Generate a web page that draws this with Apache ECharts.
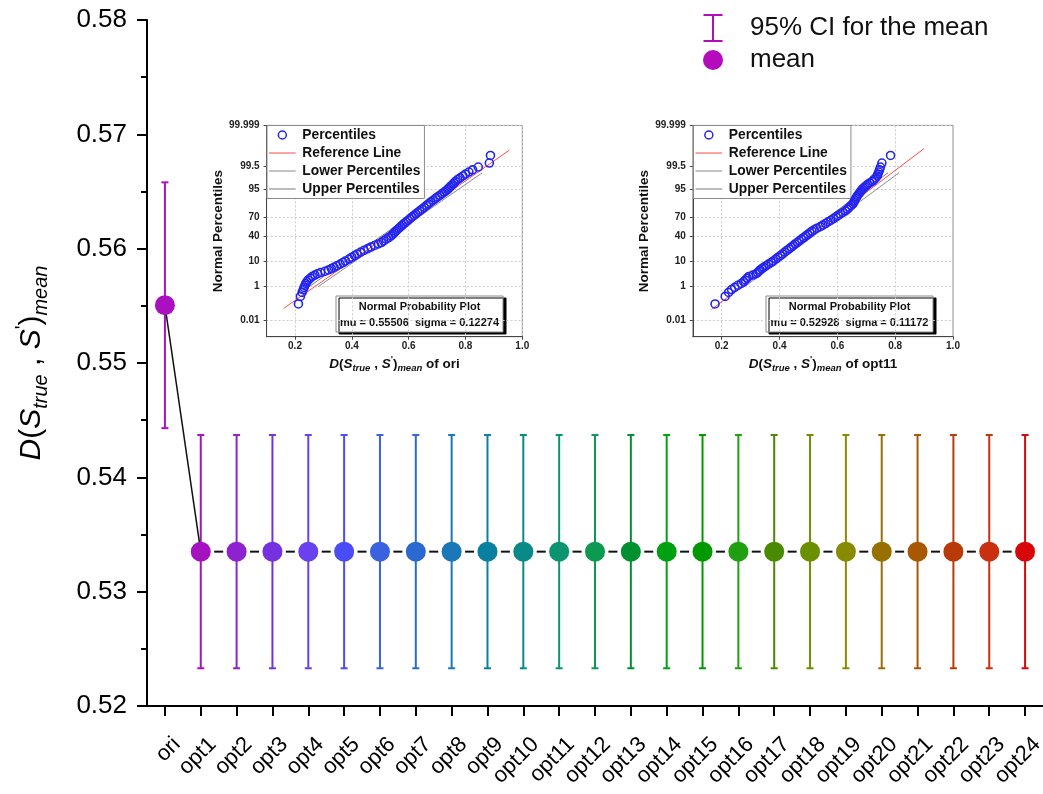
<!DOCTYPE html>
<html>
<head>
<meta charset="utf-8">
<script src="https://cdn.jsdelivr.net/npm/echarts@6/dist/echarts.min.js"></script>
<style>
  html, body { margin: 0; padding: 0; background: #ffffff; }
  #chart { width: 1043px; height: 794px; }
</style>
</head>
<body>
<div id="chart"></div>
<script>
// ---------- main chart data ----------
const categories = ['ori', 'opt1', 'opt2', 'opt3', 'opt4', 'opt5', 'opt6', 'opt7', 'opt8', 'opt9', 'opt10',
  'opt11', 'opt12', 'opt13', 'opt14', 'opt15', 'opt16', 'opt17', 'opt18', 'opt19', 'opt20',
  'opt21', 'opt22', 'opt23', 'opt24'];
const meanValues = [0.55506, 0.5335, 0.5335, 0.5335, 0.5335, 0.5335, 0.5335, 0.5335, 0.5335, 0.5335, 0.5335,
  0.5335, 0.5335, 0.5335, 0.5335, 0.5335, 0.5335, 0.5335, 0.5335, 0.5335, 0.5335,
  0.5335, 0.5335, 0.5335, 0.5335];
const ciLower = [0.5443, 0.5233, 0.5233, 0.5233, 0.5233, 0.5233, 0.5233, 0.5233, 0.5233, 0.5233, 0.5233,
  0.5233, 0.5233, 0.5233, 0.5233, 0.5233, 0.5233, 0.5233, 0.5233, 0.5233, 0.5233,
  0.5233, 0.5233, 0.5233, 0.5233];
const ciUpper = [0.5658, 0.5437, 0.5437, 0.5437, 0.5437, 0.5437, 0.5437, 0.5437, 0.5437, 0.5437, 0.5437,
  0.5437, 0.5437, 0.5437, 0.5437, 0.5437, 0.5437, 0.5437, 0.5437, 0.5437, 0.5437,
  0.5437, 0.5437, 0.5437, 0.5437];
const markColors = ['#aa10c0', '#a513c0', '#8e22d0', '#7530e0', '#6a40f0', '#4a4cf8', '#3a62e0', '#2a6ad0',
  '#1a78b8', '#0a80a0', '#088a88', '#0a9470', '#0c9a50', '#009030', '#00a010', '#009a00', '#20a010',
  '#4a8a00', '#6a9000', '#888a00', '#987000', '#a85800', '#b83a08', '#c83010', '#d80808'];
const legendColor = '#b40cbc';

// ---------- normal probability insets ----------
const probTickLabels = ['0.01', '1', '10', '40', '70', '95', '99.5', '99.999'];
const probXTicks = [0.2, 0.4, 0.6, 0.8, 1.0];
// plotting positions (%) of the plotted order statistics
const plotPercentiles = [0.12, 0.32, 0.52, 0.72, 0.92, 1.15, 1.4, 1.7, 2.0, 2.4, 2.8, 3.2, 3.6, 4.0, 4.5,
  5.0, 5.6, 6.2, 7.0, 8.0, 9.0, 10, 11.5, 13, 14.5, 16, 18, 20, 22, 24, 26, 28, 30, 32.5, 35, 37.5, 40,
  42.5, 45, 47.5, 50, 52.5, 55, 57.5, 60, 62.5, 65, 67.5, 70, 72, 74, 76, 78, 80, 82, 84, 85.5, 87, 88.5,
  90, 91, 92, 93, 93.8, 94.4, 95, 95.5, 96, 96.4, 96.8, 97.2, 97.6, 98, 98.3, 98.6, 98.85, 99.08, 99.28,
  99.48, 99.68, 99.88];
const oriSampleX = [0.212, 0.219, 0.225, 0.229, 0.232, 0.235, 0.238, 0.242, 0.247, 0.254, 0.261, 0.270,
  0.279, 0.290, 0.306, 0.318, 0.328, 0.337, 0.347, 0.359, 0.369, 0.377, 0.390, 0.400, 0.410, 0.419, 0.431,
  0.443, 0.456, 0.467, 0.480, 0.493, 0.504, 0.512, 0.521, 0.530, 0.538, 0.544, 0.549, 0.554, 0.560,
  0.566, 0.572, 0.578, 0.584, 0.591, 0.598, 0.605, 0.612, 0.619, 0.625, 0.632, 0.639, 0.647, 0.655, 0.663,
  0.670, 0.677, 0.686, 0.695, 0.702, 0.710, 0.718, 0.725, 0.731, 0.737, 0.741, 0.746, 0.750, 0.755, 0.760,
  0.765, 0.773, 0.781, 0.791, 0.800, 0.812, 0.825, 0.845, 0.884, 0.888];
const opt11SampleX = [0.177, 0.212, 0.224, 0.234, 0.245, 0.256, 0.268, 0.276, 0.282, 0.288, 0.294, 0.308,
  0.319, 0.324, 0.329, 0.333, 0.339, 0.345, 0.353, 0.362, 0.371, 0.378, 0.387, 0.395, 0.403, 0.410, 0.418,
  0.426, 0.434, 0.441, 0.448, 0.454, 0.461, 0.468, 0.476, 0.484, 0.491, 0.498, 0.505, 0.512, 0.520,
  0.529, 0.541, 0.550, 0.559, 0.568, 0.577, 0.587, 0.596, 0.603, 0.611, 0.619, 0.628, 0.635, 0.641, 0.648,
  0.654, 0.657, 0.660, 0.664, 0.667, 0.670, 0.675, 0.679, 0.682, 0.686, 0.690, 0.695, 0.700, 0.705, 0.712,
  0.721, 0.727, 0.733, 0.738, 0.740, 0.743, 0.746, 0.749, 0.754, 0.784];
const oriFit = [0.55506, 0.12274];     // mu, sigma
const opt11Fit = [0.52928, 0.11172];
const oriRefRange = [0.16, 0.955];     // x extent of the reference line
const opt11RefRange = [0.165, 0.90];
const oriLowerBand = [[0.282, 1], [0.859, 99]];
const oriUpperBand = [[0.25, 1], [0.822, 99]];
const opt11LowerBand = [[0.28, 1], [0.813, 99]];
const opt11UpperBand = [[0.245, 1], [0.775, 99]];

const FONT = 'Arial, "Liberation Sans", Helvetica, sans-serif';
const REF_COLOR = '#ff4a4a';
const LOWER_COLOR = '#8c8c8c';
const UPPER_COLOR = '#7a7a7a';
const PCT_COLOR = '#2424f2';
// thin horizontal stroke used as the legend glyph of the line series
const LINE_ICON = 'path://M0,0L0.01,0M0,3.9H30V5.1H0ZM0,9L0.01,9';

// inverse standard normal CDF (Acklam) -> probability-scale coordinate
function probit(p) {
  const a = [-3.969683028665376e+01, 2.209460984245205e+02, -2.759285104469687e+02, 1.383577518672690e+02, -3.066479806614716e+01, 2.506628277459239e+00];
  const b = [-5.447609879822406e+01, 1.615858368580409e+02, -1.556989798598866e+02, 6.680131188771972e+01, -1.328068155288572e+01];
  const c = [-7.784894002430293e-03, -3.223964580411365e-01, -2.400758277161838e+00, -2.549732539343734e+00, 4.374664141464968e+00, 2.938163982698783e+00];
  const d = [7.784695709041462e-03, 3.224671290700398e-01, 2.445134137142996e+00, 3.754408661907416e+00];
  const pl = 0.02425, ph = 1 - pl;
  let q, r;
  if (p < pl) {
    q = Math.sqrt(-2 * Math.log(p));
    return (((((c[0] * q + c[1]) * q + c[2]) * q + c[3]) * q + c[4]) * q + c[5]) / ((((d[0] * q + d[1]) * q + d[2]) * q + d[3]) * q + 1);
  }
  if (p <= ph) {
    q = p - 0.5; r = q * q;
    return (((((a[0] * r + a[1]) * r + a[2]) * r + a[3]) * r + a[4]) * r + a[5]) * q / (((((b[0] * r + b[1]) * r + b[2]) * r + b[3]) * r + b[4]) * r + 1);
  }
  q = Math.sqrt(-2 * Math.log(1 - p));
  return -(((((c[0] * q + c[1]) * q + c[2]) * q + c[3]) * q + c[4]) * q + c[5]) / ((((d[0] * q + d[1]) * q + d[2]) * q + d[3]) * q + 1);
}
const pz = pct => probit(pct / 100);
const probTickZ = probTickLabels.map(s => pz(parseFloat(s)));
const probTop = pz(99.999);
const probBottom = -4.374;

function probLabel(v) {
  for (let i = 0; i < probTickZ.length; i++) {
    if (Math.abs(probTickZ[i] - v) < 1e-6) return probTickLabels[i];
  }
  return '';
}

const insetRich = {
  i: { fontSize: 13.5, fontWeight: 'bold', fontStyle: 'italic', fontFamily: FONT, color: '#111', lineHeight: 19 },
  n: { fontSize: 13.5, fontWeight: 'bold', fontFamily: FONT, color: '#111', lineHeight: 19 },
  s: { fontSize: 9.5, fontWeight: 'bold', fontStyle: 'italic', fontFamily: FONT, color: '#111', lineHeight: 9, verticalAlign: 'bottom' },
  p: { fontSize: 9.5, fontWeight: 'bold', fontFamily: FONT, color: '#111', lineHeight: 9, verticalAlign: 'top' }
};

function insetXAxis(gi, sampleName) {
  return {
    type: 'value', gridIndex: gi, min: 0.1, max: 1.0,
    axisLine: { show: true, onZero: false, lineStyle: { color: '#444', width: 1 } },
    axisTick: { show: true, customValues: probXTicks, length: 3, lineStyle: { color: '#444' } },
    axisLabel: { customValues: probXTicks, formatter: v => v.toFixed(1), fontSize: 10, fontWeight: 'bold',
      color: '#222', margin: 5, fontFamily: FONT },
    splitLine: { show: true, lineStyle: { color: '#cccccc', type: [2, 2], width: 1 } },
    name: '{i|D}{n|(}{i|S}{s|true}{n| , }{i|S}{p|\'}{n|)}{s|mean}{n| of ' + sampleName + '}',
    nameLocation: 'middle', nameGap: 18,
    nameTextStyle: { rich: insetRich }
  };
}
function insetYAxis(gi) {
  return {
    type: 'value', gridIndex: gi, min: probBottom, max: probTop,
    axisLine: { show: true, onZero: false, lineStyle: { color: '#444', width: 1 } },
    axisTick: { show: true, customValues: probTickZ, length: 3, lineStyle: { color: '#444' } },
    axisLabel: { customValues: probTickZ, formatter: probLabel, fontSize: 10, fontWeight: 'bold',
      color: '#222', margin: 7, fontFamily: FONT },
    splitLine: { show: true, lineStyle: { color: '#cccccc', type: [2, 2], width: 1 } },
    name: 'Normal Percentiles', nameLocation: 'middle', nameGap: 38,
    nameTextStyle: { fontSize: 13.5, fontWeight: 'bold', color: '#111', fontFamily: FONT }
  };
}
function insetSeries(gi, sampleX, fit, refRange, lowerBand, upperBand) {
  const [mu, sigma] = fit;
  const common = { xAxisIndex: gi, yAxisIndex: gi, silent: true };
  return [
    Object.assign({
      name: 'Lower Percentiles', type: 'line', symbol: 'none', z: 3,
      itemStyle: { color: LOWER_COLOR },
      lineStyle: { color: LOWER_COLOR, width: 1 },
      data: lowerBand.map(d => [d[0], pz(d[1])])
    }, common),
    Object.assign({
      name: 'Upper Percentiles', type: 'line', symbol: 'none', z: 3,
      itemStyle: { color: UPPER_COLOR },
      lineStyle: { color: UPPER_COLOR, width: 1 },
      data: upperBand.map(d => [d[0], pz(d[1])])
    }, common),
    Object.assign({
      name: 'Reference Line', type: 'line', symbol: 'none', z: 4,
      itemStyle: { color: REF_COLOR },
      lineStyle: { color: REF_COLOR, width: 1 },
      data: refRange.map(x => [x, (x - mu) / sigma])
    }, common),
    Object.assign({
      name: 'Percentiles', type: 'scatter', symbol: 'circle', symbolSize: 8, z: 5,
      itemStyle: { color: 'rgba(0,0,0,0)', borderColor: PCT_COLOR, borderWidth: 1.6, opacity: 1 },
      data: sampleX.map((x, i) => [x, pz(plotPercentiles[i])])
    }, common)
  ];
}
function insetLegend(left) {
  return {
    orient: 'vertical', left: left, top: 125.5,
    data: [
      { name: 'Percentiles', icon: 'circle', itemStyle: { color: 'rgba(0,0,0,0)', borderColor: PCT_COLOR, borderWidth: 1.5 } },
      { name: 'Reference Line', icon: LINE_ICON, itemStyle: { color: REF_COLOR } },
      { name: 'Lower Percentiles', icon: LINE_ICON, itemStyle: { color: LOWER_COLOR } },
      { name: 'Upper Percentiles', icon: LINE_ICON, itemStyle: { color: UPPER_COLOR } }
    ],
    itemWidth: 30, itemHeight: 8, itemGap: 3,
    padding: [2, 4, 2, 2],
    backgroundColor: '#ffffff', borderColor: '#8a8a8a', borderWidth: 1, borderRadius: 0,
    textStyle: { fontSize: 13.8, fontWeight: 'bold', color: '#111', fontFamily: FONT, lineHeight: 15 },
    selectedMode: false
  };
}
function statBox(x, y, fit) {
  const w = 167, h = 36;
  return {
    type: 'group', x: x, y: y, z: 60,
    children: [
      { type: 'rect', shape: { x: 0, y: 0, width: w, height: h },
        style: { fill: '#ffffff', stroke: '#8a8a8a', lineWidth: 1, shadowColor: '#000000',
          shadowOffsetX: 3, shadowOffsetY: 2, shadowBlur: 0 } },
      { type: 'text', x: w / 2, y: 11,
        style: { text: 'Normal Probability Plot', font: 'bold 11px ' + FONT, fill: '#111',
          align: 'center', verticalAlign: 'middle', textAlign: 'center', textVerticalAlign: 'middle' } },
      { type: 'text', x: w / 2, y: 27,
        style: { text: 'mu = ' + fit[0].toFixed(5) + '  sigma = ' + fit[1].toFixed(5), font: 'bold 11px ' + FONT,
          fill: '#111', align: 'center', verticalAlign: 'middle', textAlign: 'center', textVerticalAlign: 'middle' } }
    ]
  };
}

const mainRich = {
  i: { fontSize: 30, fontStyle: 'italic', fontFamily: FONT, color: '#000', lineHeight: 38 },
  n: { fontSize: 30, fontFamily: FONT, color: '#000', lineHeight: 38 },
  s: { fontSize: 20, fontStyle: 'italic', fontFamily: FONT, color: '#000', lineHeight: 19, verticalAlign: 'bottom' },
  p: { fontSize: 20, fontFamily: FONT, color: '#000', lineHeight: 19, verticalAlign: 'top' }
};

const chart = echarts.init(document.getElementById('chart'), null, { renderer: 'canvas' });

const option = {
  animation: false,
  backgroundColor: '#ffffff',
  textStyle: { fontFamily: FONT },
  grid: [
    { left: 147, right: 0, top: 20, bottom: 88, outerBoundsMode: 'none' },
    { left: 266.6, top: 125.4, width: 255.7, height: 211.3, show: true, borderColor: '#8a8a8a', borderWidth: 1,
      backgroundColor: 'rgba(0,0,0,0)', outerBoundsMode: 'none' },
    { left: 692.8, top: 125.4, width: 260.2, height: 211.3, show: true, borderColor: '#8a8a8a', borderWidth: 1,
      backgroundColor: 'rgba(0,0,0,0)', outerBoundsMode: 'none' }
  ],
  xAxis: [
    {
      type: 'category', gridIndex: 0, data: categories, boundaryGap: true,
      axisLine: { show: true, lineStyle: { color: '#000', width: 2 } },
      axisTick: { show: true, alignWithLabel: true, length: 10, lineStyle: { color: '#000', width: 2 } },
      axisLabel: { rotate: 45, fontSize: 22, color: '#000', margin: 23, verticalAlign: 'top',
        padding: [6, 0, 0, 0], fontFamily: FONT, interval: 0 },
      splitLine: { show: false }
    },
    insetXAxis(1, 'ori'),
    insetXAxis(2, 'opt11')
  ],
  yAxis: [
    {
      type: 'value', gridIndex: 0, min: 0.52, max: 0.58, interval: 0.01,
      axisLine: { show: true, lineStyle: { color: '#000', width: 2 } },
      axisTick: { show: true, length: 10, lineStyle: { color: '#000', width: 2 } },
      minorTick: { show: true, splitNumber: 2, length: 6, lineStyle: { color: '#000', width: 2 } },
      axisLabel: { formatter: v => v.toFixed(2), fontSize: 26, color: '#000', margin: 20, fontFamily: FONT },
      splitLine: { show: false },
      name: '{i|D}{n|(}{i|S}{s|true}{n| , }{i|S}{p|\'}{n|)}{s|mean}',
      nameLocation: 'middle', nameRotate: 90, nameGap: 96,
      nameTextStyle: { rich: mainRich }
    },
    insetYAxis(1),
    insetYAxis(2)
  ],
  legend: [
    {
      orient: 'vertical', left: 703, top: 14, padding: 0,
      data: [
        { name: '95% CI for the mean', icon: 'path://M0,0H19V2H10.5V26H19V28H0V26H8.5V2H0Z', itemStyle: { color: legendColor } },
        { name: 'mean', icon: 'circle', itemStyle: { color: legendColor, opacity: 1 } }
      ],
      itemWidth: 20, itemHeight: 28, itemGap: 4,
      formatter: name => '{g|}' + name,
      textStyle: { fontSize: 26, lineHeight: 28, color: '#111', fontFamily: FONT, rich: { g: { width: 22 } } },
      selectedMode: false
    },
    insetLegend(267),
    insetLegend(693.5)
  ],
  graphic: [
    statBox(336, 296, oriFit),
    statBox(766, 296, opt11Fit)
  ],
  series: [
    {
      name: '95% CI for the mean', type: 'custom', xAxisIndex: 0, yAxisIndex: 0, z: 2,
      encode: { x: 0, y: [1, 2] },
      data: categories.map((c, i) => [i, ciLower[i], ciUpper[i]]),
      renderItem: function (params, api) {
        const idx = api.value(0);
        const lo = api.coord([idx, api.value(1)]);
        const hi = api.coord([idx, api.value(2)]);
        const col = markColors[idx];
        const hw = 3.5;
        const st = { stroke: col, lineWidth: 2 };
        return {
          type: 'group',
          children: [
            { type: 'line', shape: { x1: lo[0], y1: lo[1], x2: hi[0], y2: hi[1] }, style: st },
            { type: 'line', shape: { x1: hi[0] - hw, y1: hi[1], x2: hi[0] + hw, y2: hi[1] }, style: st },
            { type: 'line', shape: { x1: lo[0] - hw, y1: lo[1], x2: lo[0] + hw, y2: lo[1] }, style: st }
          ]
        };
      }
    },
    {
      name: 'mean link', type: 'line', xAxisIndex: 0, yAxisIndex: 0, z: 3, symbol: 'none', silent: true,
      lineStyle: { color: '#111', width: 1.5 },
      data: [[0, meanValues[0]], [1, meanValues[1]]]
    },
    {
      name: 'mean dashes', type: 'custom', xAxisIndex: 0, yAxisIndex: 0, z: 3, silent: true,
      encode: { x: 0, y: 1 },
      data: meanValues.slice(1, -1).map((v, k) => [k + 1, v, k + 2, meanValues[k + 2]]),
      renderItem: function (params, api) {
        const a = api.coord([api.value(0), api.value(1)]);
        const b = api.coord([api.value(2), api.value(3)]);
        const mx = (a[0] + b[0]) / 2, my = (a[1] + b[1]) / 2;
        const dx = b[0] - a[0], dy = b[1] - a[1];
        const len = Math.sqrt(dx * dx + dy * dy) || 1;
        const h = 4.5;
        return {
          type: 'line',
          shape: { x1: mx - dx / len * h, y1: my - dy / len * h, x2: mx + dx / len * h, y2: my + dy / len * h },
          style: { stroke: '#111', lineWidth: 2 }
        };
      }
    },
    {
      name: 'mean', type: 'scatter', xAxisIndex: 0, yAxisIndex: 0, z: 5, symbol: 'circle', symbolSize: 20,
      itemStyle: { color: legendColor, opacity: 1 },
      data: meanValues.map((v, i) => ({ value: [i, v], itemStyle: { color: markColors[i], opacity: 1 } }))
    }
  ].concat(
    insetSeries(1, oriSampleX, oriFit, oriRefRange, oriLowerBand, oriUpperBand),
    insetSeries(2, opt11SampleX, opt11Fit, opt11RefRange, opt11LowerBand, opt11UpperBand)
  )
};

chart.setOption(option);
</script>
</body>
</html>
